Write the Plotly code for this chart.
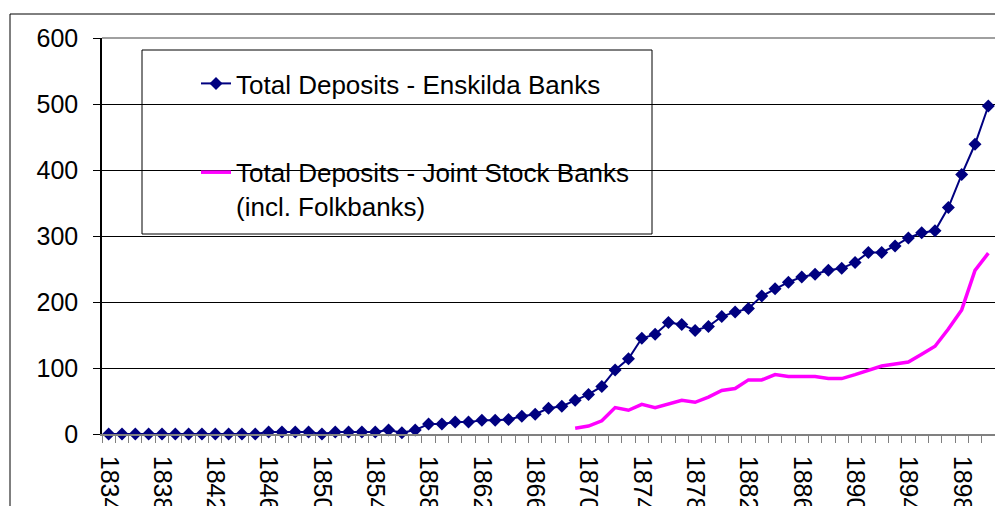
import plotly.graph_objects as go

years = list(range(1834, 1901))
enskilda = [0, 0, 0, 0, 0, 0, 0, 0, 0, 0, 0, 0,
            3, 3, 3, 3, 0, 3, 3, 3, 3, 6, 2, 6,
            15, 15, 18, 18, 21, 21, 22, 27, 30, 39, 42, 51, 60, 72, 97, 114,
            145, 151, 169, 166, 157, 163, 178, 185, 190, 209, 220, 230, 238,
            242, 248, 251, 260, 275, 275, 285, 297, 305, 308, 343, 393, 439, 497]
joint_stock = [None] * 35 + [8.6, 12, 20, 40, 36, 45, 40, 45, 51, 48, 56, 66, 69,
                             82, 82, 90, 87, 87, 87, 84, 84, 90, 96, 103, 106,
                             109, 121, 133, 159, 188, 248, 274]
tick_years = list(range(1834, 1899, 4))
tick_labels = [str(y) for y in tick_years]
y_ticks = [0, 100, 200, 300, 400, 500, 600]

FONT = "Liberation Sans, Arial, sans-serif"

fig = go.Figure()
fig.add_trace(go.Scatter(
    x=years, y=enskilda, mode="lines+markers",
    name="Total Deposits - Enskilda Banks", legendgroup="a",
    line=dict(color="#000080", width=2),
    marker=dict(symbol="diamond", size=10, color="#000080"),
    cliponaxis=False,
))
fig.add_trace(go.Scatter(
    x=years, y=joint_stock, mode="lines",
    name="Total Deposits - Joint Stock Banks<br>(incl. Folkbanks)", legendgroup="b",
    line=dict(color="#FF00FF", width=3.5),
    connectgaps=False,
))

L, T, W, H = 102, 38, 995, 506
B = 434
pw = W - L
ph = B - T

def px(x):
    return (x - L) / pw

def py(y):
    return (B - y) / ph

fig.update_layout(
    width=W, height=H,
    margin=dict(l=L, r=0, t=T, b=H - B, autoexpand=False),
    paper_bgcolor="white", plot_bgcolor="white",
    font=dict(family=FONT, size=25, color="black"),
    showlegend=True,
    legend=dict(
        x=px(196), y=py(60), xanchor="left", yanchor="top",
        bgcolor="rgba(0,0,0,0)", borderwidth=0,
        font=dict(family=FONT, size=26, color="black"),
        tracegroupgap=52, valign="top", itemwidth=30,
        traceorder="grouped",
    ),
    shapes=[
        dict(type="rect", xref="paper", yref="paper",
             x0=px(10), x1=px(1100), y0=py(700), y1=py(14),
             line=dict(color="black", width=1), fillcolor="rgba(0,0,0,0)", layer="below"),
        dict(type="line", xref="paper", yref="paper",
             x0=0, x1=1, y0=1, y1=1, line=dict(color="#808080", width=1.5)),
        dict(type="rect", xref="paper", yref="paper",
             x0=px(142), x1=px(652), y0=py(234), y1=py(50),
             line=dict(color="black", width=1), fillcolor="white", layer="below"),
    ],
)
fig.update_xaxes(
    range=[1833.5, 1900.5], tickmode="array", tickvals=tick_years, ticktext=tick_labels,
    tickangle=90, ticks="", ticklabelstandoff=15, showgrid=False, zeroline=False,
    showline=True, linecolor="#808080", linewidth=1.5, automargin=False,
    tickfont=dict(family=FONT, size=25, color="black"),
    minor=dict(ticks="outside", ticklen=7, tickcolor="#808080", tickwidth=1,
               tickmode="linear", tick0=1833.5, dtick=1, showgrid=False),
)
fig.update_yaxes(
    range=[0, 600], tickmode="array", tickvals=y_ticks,
    ticks="outside", ticklen=7, tickcolor="black", ticklabelstandoff=10,
    showgrid=True, gridcolor="black", gridwidth=1, zeroline=False,
    showline=True, linecolor="black", linewidth=1.5, automargin=False,
    tickfont=dict(family=FONT, size=25, color="black"),
)

fig.write_html("out.html", config={"displayModeBar": False},
               post_script="document.body.style.margin='0';document.body.style.overflow='hidden';")
